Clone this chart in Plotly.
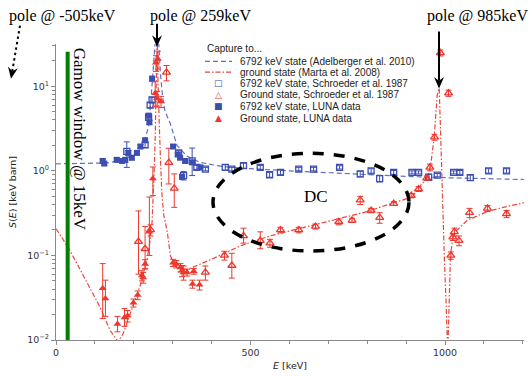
import plotly.graph_objects as go

# ---------------- data ----------------
# Model curves
blue_model_E = [0, 50, 100, 132, 174, 199, 225, 238, 245, 251, 255, 259, 263, 268, 274, 280, 294, 311,
                336, 370, 430, 500, 600, 700, 800, 900, 1000, 1100, 1203]
blue_model_S = [1.21, 1.22, 1.23, 1.24, 1.35, 1.57, 2.1, 3.3, 7.9, 19, 35, 60, 40, 15, 7.5, 5.1, 3.6, 2.0,
                1.5, 1.26, 1.12, 1.06, 1.0, 0.95, 0.9, 0.86, 0.83, 0.81, 0.79]

red_model_E = [0, 32, 60, 88, 114, 139, 160, 173, 199, 217, 234, 242, 247, 250, 253, 255, 257, 258.5, 260,
               261.5, 263, 266, 269, 272, 277, 286, 294, 302, 315, 337, 400, 474, 550, 650, 723, 800, 868,
               916, 932, 955, 963, 972, 980, 985, 989, 993, 998, 1003, 1006, 1007.5, 1008, 1011, 1014, 1020,
               1026, 1057, 1108, 1150, 1203]
red_model_S = [0.207, 0.123, 0.071, 0.041, 0.024, 0.013, 0.0095, 0.012, 0.026, 0.045, 0.089, 0.15, 0.25,
               0.5, 1.2, 2.5, 6, 15, 40, 15, 7, 3, 1.2, 0.55, 0.3, 0.19, 0.1, 0.08, 0.07, 0.068, 0.09, 0.13,
               0.17, 0.22, 0.27, 0.33, 0.42, 0.49, 0.63, 0.84, 1.15, 2.5, 7.9, 9.5, 2.5, 0.52, 0.1, 0.025,
               0.006, 0.006, 0.01, 0.04, 0.1, 0.16, 0.19, 0.26, 0.33, 0.37, 0.42]

# 6792 keV state, Schroeder et al. 1987 (open squares)
bs_E = [182, 229, 238, 242, 247, 315, 328, 350, 362, 384, 435, 452, 482, 525, 549, 577, 624, 662, 729,
        782, 810, 832, 868, 915, 932, 958, 980, 1022, 1038, 1065, 1112, 1158]
bs_S = [1.7, 2.03, 4.3, 6.0, 6.9, 1.63, 0.88, 1.31, 1.1, 1.05, 1.1, 1.05, 1.15, 1.1, 0.9, 0.96, 1.05, 1.05,
        1.1, 0.92, 1.0, 0.81, 0.96, 0.96, 0.96, 0.84, 0.89, 0.96, 0.96, 0.83, 1.0, 1.0]
bs_ep = [0.5, 0.15, 0.3, 0.4, 0.5, 0.1, 0.1, 0.55, 0.06, 0.05, 0.08, 0.05, 0.08, 0.06, 0.06, 0.06, 0.05,
         0.05, 0.05, 0.07, 0.06, 0.07, 0.05, 0.04, 0.04, 0.07, 0.04, 0.04, 0.05, 0.06, 0.06, 0.06]
bs_em = [0.6, 0.15, 0.3, 0.4, 0.5, 0.1, 0.1, 0.43, 0.06, 0.05, 0.08, 0.05, 0.08, 0.06, 0.06, 0.06, 0.05,
         0.05, 0.05, 0.07, 0.06, 0.07, 0.05, 0.04, 0.04, 0.07, 0.04, 0.04, 0.05, 0.06, 0.06, 0.06]

# 6792 keV state, LUNA data (filled squares)
bl_E = [120, 124, 156, 170, 178, 186, 195, 208, 217, 229, 238, 240, 247, 301, 313, 319, 324, 332, 350, 371]
bl_S = [1.31, 1.22, 1.35, 1.31, 1.35, 1.63, 1.43, 1.63, 1.94, 2.3, 4.5, 3.75, 12.3, 1.94, 1.56, 1.43,
        0.85, 1.31, 1.26, 1.1]
bl_e = [0.07, 0.06, 0.07, 0.07, 0.08, 0.1, 0.08, 0.08, 0.1, 0.12, 0.25, 0.2, 0.8, 0.1, 0.08, 0.07,
        0.05, 0.06, 0.06, 0.05]

# Ground state, Schroeder et al. 1987 (open triangles)
rs_E = [212, 229, 243, 284, 290, 304, 384, 433, 452, 482, 525, 550, 577, 624, 667, 727, 761, 782, 810,
        832, 868, 913, 932, 953, 961, 973, 988, 1009, 1015, 1020, 1024, 1036, 1063, 1109, 1158]
rs_S = [0.146, 0.12, 0.2, 14.6, 1.25, 0.62, 0.063, 0.1, 0.076, 0.17, 0.15, 0.14, 0.2, 0.2, 0.22, 0.25,
        0.26, 0.45, 0.34, 0.28, 0.41, 0.51, 0.61, 0.82, 1.1, 2.5, 24.8, 8.3, 0.1, 0.165, 0.19, 0.15,
        0.32, 0.36, 0.31]
rs_ep = [0.19, 0.1, 0.03, 3.0, 0.6, 0.3, 0.012, 0.012, 0.03, 0.04, 0.04, 0.015, 0.015, 0.015, 0.015,
         0.02, 0.015, 0.05, 0.02, 0.04, 0.02, 0.03, 0.04, 0.05, 0.1, 0.2, 2.0, 0.7, 0.01, 0.015, 0.02,
         0.02, 0.04, 0.03, 0.03]
rs_em = [0.086, 0.05, 0.03, 3.0, 0.55, 0.25, 0.012, 0.012, 0.022, 0.03, 0.03, 0.015, 0.015, 0.015,
         0.015, 0.02, 0.015, 0.05, 0.02, 0.04, 0.02, 0.03, 0.04, 0.05, 0.1, 0.2, 2.0, 0.7, 0.01, 0.015,
         0.02, 0.02, 0.04, 0.03, 0.03]

# Ground state, LUNA data (filled triangles)
rl_E = [120, 127, 158, 176, 184, 199, 210, 221, 224, 229, 240, 249, 255, 257, 260, 262, 270, 301, 309,
        320, 324, 328, 337, 351, 354, 369]
rl_S = [0.041, 0.031, 0.0155, 0.0185, 0.0193, 0.0275, 0.034, 0.058, 0.055, 0.079, 0.19, 0.81, 8.3, 19,
        7.2, 21, 6.6, 0.082, 0.079, 0.072, 0.066, 0.063, 0.063, 0.046, 0.065, 0.045]
rl_ep = [0.039, 0.02, 0.0035, 0.005, 0.003, 0.003, 0.004, 0.008, 0.008, 0.01, 0.3, 0.3, 3.0, 4.0, 1.5,
         5.0, 1.0, 0.008, 0.008, 0.008, 0.01, 0.012, 0.006, 0.005, 0.005, 0.006]
rl_em = [0.023, 0.012, 0.003, 0.004, 0.003, 0.003, 0.004, 0.008, 0.008, 0.01, 0.09, 0.3, 2.5, 4.0, 1.5,
         5.0, 1.0, 0.008, 0.008, 0.008, 0.01, 0.012, 0.006, 0.005, 0.005, 0.006]

legend_title = "Capture to..."
legend_labels = ["6792 keV state (Adelberger et al. 2010)",
                 "ground state (Marta et al. 2008)",
                 "6792 keV state, Schroeder et al. 1987",
                 "Ground state, Schroeder et al. 1987",
                 "6792 keV state, LUNA data",
                 "Ground state, LUNA data"]

y_tickvals = [0.01, 0.1, 1, 10]
y_ticktext = ["10<sup>−2</sup>", "10<sup>−1</sup>", "10<sup>0</sup>", "10<sup>1</sup>"]
y_minor = [m * 10 ** d for d in (-2, -1, 0, 1) for m in range(2, 10) if m * 10 ** d < 31.6]

# ---------------- styling ----------------
BLUE = "rgb(60,78,178)"
BLUE_LINE = "rgb(95,112,200)"
RED = "rgb(238,55,45)"
RED_LINE = "rgb(236,70,58)"

W, H = 532, 377
L, R, T, B = 56, 524, 44, 350


def px(xp):
    return (xp - L) / (R - L)


def py(yp):
    return (B - yp) / (B - T)


fig = go.Figure()

fig.add_trace(go.Scatter(x=blue_model_E, y=blue_model_S, mode="lines",
                         line=dict(color=BLUE_LINE, width=1.2, dash="5px,3px"), showlegend=False))
fig.add_trace(go.Scatter(x=red_model_E, y=red_model_S, mode="lines",
                         line=dict(color=RED_LINE, width=1.2, dash="5px,2px,1.5px,2px"), showlegend=False))


def err(ep, em, c):
    return dict(type="data", array=ep, arrayminus=em, color=c, thickness=1, width=3)


fig.add_trace(go.Scatter(x=bs_E, y=bs_S, mode="markers",
                         marker=dict(symbol="square-open", size=6, color=BLUE, line=dict(width=1.3)),
                         error_y=err(bs_ep, bs_em, BLUE), showlegend=False))
fig.add_trace(go.Scatter(x=rs_E, y=rs_S, mode="markers",
                         marker=dict(symbol="triangle-up-open", size=7, color=RED, line=dict(width=1.3)),
                         error_y=err(rs_ep, rs_em, RED), showlegend=False))
fig.add_trace(go.Scatter(x=bl_E, y=bl_S, mode="markers",
                         marker=dict(symbol="square", size=6, color=BLUE),
                         error_y=err(bl_e, bl_e, BLUE), showlegend=False))
fig.add_trace(go.Scatter(x=rl_E, y=rl_S, mode="markers",
                         marker=dict(symbol="triangle-up", size=7, color=RED),
                         error_y=err(rl_ep, rl_em, RED), showlegend=False))

shapes = []
annotations = []


def text(t, xp, yp, size, family, color="black", anchor="center", angle=0):
    annotations.append(dict(text=t, xref="paper", yref="paper", x=px(xp), y=py(yp), xanchor=anchor,
                            yanchor="middle", textangle=angle, showarrow=False,
                            font=dict(family=family, size=size, color=color)))


def arrow(x0, y0, xt, yt, dash=None, head_len=12, head_w=5, notch=4):
    # line + barbed head drawn with shapes, all in pixel positions converted to paper
    dx, dy = xt - x0, yt - y0
    n = (dx * dx + dy * dy) ** 0.5
    ux, uy = dx / n, dy / n
    vx, vy = -uy, ux
    bx, by = xt - head_len * ux, yt - head_len * uy
    nx, ny = xt - (head_len - notch) * ux, yt - (head_len - notch) * uy
    line = dict(color="black", width=2)
    if dash:
        line["dash"] = dash
    shapes.append(dict(type="line", xref="paper", yref="paper", x0=px(x0), y0=py(y0),
                       x1=px(nx), y1=py(ny), line=line))
    pts = [(xt, yt), (bx + head_w * vx, by + head_w * vy), (nx, ny), (bx - head_w * vx, by - head_w * vy)]
    path = "M " + " L ".join(f"{px(a):.5f},{py(b):.5f}" for a, b in pts) + " Z"
    shapes.append(dict(type="path", xref="paper", yref="paper", path=path, fillcolor="black",
                       line=dict(width=0)))


# Gamow window line
shapes.append(dict(type="line", xref="x", yref="paper", x0=30, x1=30, y0=0, y1=py(52),
                   line=dict(color="rgb(0,128,0)", width=4)))
text("Gamow window @ 15keV", 79, 142, 17, "Liberation Serif", angle=90)

# DC ellipse
shapes.append(dict(type="circle", xref="paper", yref="paper", x0=px(213), x1=px(409), y0=py(258),
                   y1=py(157), line=dict(color="black", width=3.5, dash="11px,10px")))
text("DC", 316, 202, 17, "Liberation Serif")

# pole labels and arrows
text("pole @ -505keV", 62.5, 15, 16, "Liberation Serif")
text("pole @ 259keV", 200, 15, 16, "Liberation Serif")
text("pole @ 985keV", 477, 15, 16, "Liberation Serif")
arrow(157, 23, 157, 47)
arrow(439, 31, 439, 90)
arrow(20, 25, 11, 80, dash="2.5px,3px")

# manual legend
LF = "Liberation Sans"
text(legend_title, 205, 49, 10, LF, color="#222", anchor="left")
rows = [62, 73, 84.5, 96.5, 108.5, 120.5]
for lab, yr in zip(legend_labels, rows):
    text(lab, 238, yr, 10, LF, color="#222", anchor="left")
shapes.append(dict(type="line", xref="paper", yref="paper", x0=px(205), x1=px(232), y0=py(62), y1=py(62),
                   line=dict(color=BLUE_LINE, width=1.2, dash="5px,3px")))
shapes.append(dict(type="line", xref="paper", yref="paper", x0=px(205), x1=px(232), y0=py(73), y1=py(73),
                   line=dict(color=RED_LINE, width=1.2, dash="5px,2px,1.5px,2px")))
for g, c, yr in [("□", BLUE, rows[2]), ("△", RED, rows[3]), ("■", BLUE, rows[4]), ("▲", RED, rows[5])]:
    text(g, 218.5, yr, 9, "DejaVu Sans", color=c)

AX = "#8a8a8a"
fig.update_layout(
    width=W, height=H,
    margin=dict(l=L, r=W - R, t=T, b=H - B),
    paper_bgcolor="white", plot_bgcolor="white",
    showlegend=False,
    shapes=shapes, annotations=annotations,
    xaxis=dict(range=[0, 1203], showgrid=False, zeroline=False, showline=True, linecolor=AX, linewidth=1,
               ticks="outside", ticklen=4, tickcolor=AX, dtick=500, tick0=0,
               tickfont=dict(family="DejaVu Sans", size=9.5, color="#333"),
               minor=dict(dtick=100, ticks="outside", ticklen=3, tickcolor=AX, showgrid=False),
               title=dict(text="<i>E</i> [keV]", standoff=4,
                          font=dict(family="DejaVu Sans", size=9.5, color="#222"))),
    yaxis=dict(type="log", range=[-2, 1.5], showgrid=False, zeroline=False, showline=True, linecolor=AX,
               linewidth=1, ticks="outside", ticklen=4, tickcolor=AX,
               tickvals=y_tickvals, ticktext=y_ticktext,
               tickfont=dict(family="DejaVu Sans", size=9.5, color="#333"),
               minor=dict(tickvals=y_minor, ticks="outside", ticklen=3, tickcolor=AX, showgrid=False),
               title=dict(text="<i>S</i>(<i>E</i>) [keV barn]", standoff=8,
                          font=dict(family="DejaVu Sans", size=9.5, color="#222"))),
)

fig.write_html("out.html")
